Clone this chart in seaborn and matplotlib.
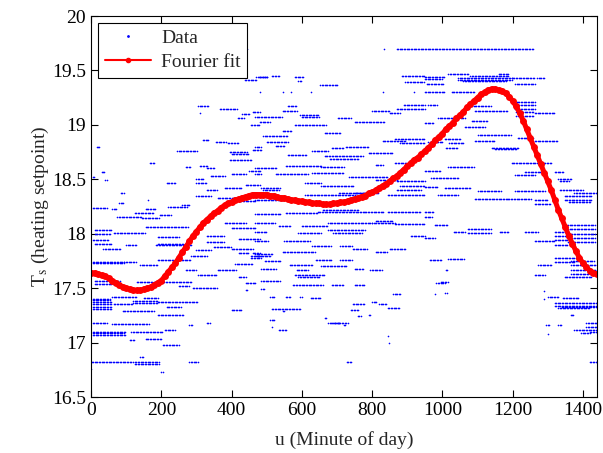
import numpy as np
import pandas as pd
import matplotlib
matplotlib.use("Agg")
import matplotlib.pyplot as plt
import seaborn as sns
from matplotlib.lines import Line2D

# horizontal runs of setpoint readings: (T_s, first minute, last minute)
runs_morning = [
    (16.73, 200, 205), (16.76, 0, 2), (16.80, 125, 195), (16.82, 2, 120), (16.82, 125, 195),
    (16.82, 280, 305), (16.87, 140, 150), (16.98, 205, 250), (17.02, 110, 125), (17.03, 155, 200),
    (17.07, 5, 100), (17.09, 5, 95), (17.10, 5, 100), (17.10, 115, 205), (17.12, 210, 240),
    (17.16, 280, 290), (17.17, 60, 165), (17.18, 5, 45), (17.25, 190, 265), (17.29, 90, 180),
    (17.31, 5, 60), (17.33, 5, 60), (17.33, 215, 255), (17.35, 5, 60), (17.35, 65, 120),
    (17.36, 120, 190), (17.37, 5, 60), (17.37, 190, 305), (17.38, 120, 190), (17.39, 5, 55),
    (17.40, 5, 55), (17.41, 150, 190), (17.42, 60, 130), (17.50, 290, 360), (17.52, 250, 280),
    (17.54, 10, 75), (17.56, 205, 285), (17.57, 10, 85), (17.56, 130, 200), (17.62, 305, 360),
    (17.67, 270, 300), (17.67, 360, 415), (17.71, 140, 190), (17.73, 5, 95), (17.74, 5, 95),
    (17.74, 95, 130), (17.76, 190, 285), (17.80, 285, 330), (17.78, 455, 485), (17.80, 455, 485),
    (17.82, 420, 450), (17.82, 460, 480), (17.86, 35, 85), (17.90, 100, 130), (17.90, 185, 285),
    (17.91, 190, 275), (17.91, 10, 60), (17.94, 5, 50), (17.97, 190, 250), (18.01, 65, 155),
    (18.03, 10, 60), (18.00, 10, 55), (18.06, 155, 275), (18.14, 145, 195), (18.15, 75, 145),
    (18.17, 195, 230), (18.19, 125, 180), (18.23, 60, 75), (18.23, 155, 185), (18.24, 5, 45),
    (18.25, 220, 275), (18.26, 260, 280), (18.28, 80, 95), (18.31, 163, 166), (18.37, 85, 95),
    (18.40, 330, 360), (18.47, 215, 240), (18.47, 300, 330), (18.49, 40, 45), (18.52, 5, 10),
    (18.53, 340, 380), (18.57, 30, 40), (18.61, 270, 285), (18.62, 310, 330), (18.65, 168, 182),
    (18.68, 395, 455), (18.75, 395, 445), (18.73, 400, 450), (18.77, 460, 485), (18.76, 245, 302),
    (18.80, 16, 25), (18.83, 390, 420), (18.84, 355, 385), (18.86, 318, 337), (19.00, 455, 480),
    (19.06, 418, 437), (19.10, 430, 450), (19.11, 310, 313), (19.12, 460, 480), (19.15, 367, 415),
    (19.17, 305, 333), (19.41, 438, 472), (19.44, 480, 500), (19.70, 443, 446),
    (18.35, 300, 340), (18.33, 360, 420), (18.30, 420, 470), (18.10, 380, 440), (18.05, 400, 470),
    (17.98, 330, 380), (17.95, 420, 480), (17.88, 350, 400), (17.85, 300, 340), (18.42, 380, 430),
    (18.45, 440, 480), (18.55, 400, 440), (18.58, 450, 485), (18.50, 300, 320), (18.60, 330, 350),
    (17.92, 330, 380), (17.86, 400, 460), (17.72, 410, 460), (17.60, 420, 440), (17.55, 440, 470),
    (17.48, 440, 445), (17.30, 400, 430), (17.18, 330, 340),
]

runs_midday = [
    (19.70, 835, 838), (19.70, 870, 1258), (19.44, 470, 505), (19.45, 515, 535), (19.44, 580, 605),
    (19.40, 590, 600), (19.37, 653, 703), (19.45, 885, 950), (19.39, 895, 950), (19.30, 480, 483),
    (19.30, 545, 548), (19.30, 570, 573), (19.30, 625, 628), (19.30, 830, 833), (19.30, 920, 923),
    (19.17, 560, 585), (19.13, 545, 585), (19.09, 595, 650), (19.07, 600, 650), (19.00, 580, 670),
    (19.03, 480, 510), (19.07, 467, 545), (19.06, 703, 740), (19.03, 750, 835), (19.13, 800, 850),
    (19.11, 850, 880), (19.15, 870, 950), (19.18, 890, 950), (18.94, 545, 570), (18.93, 665, 710),
    (18.90, 490, 560), (18.84, 500, 560), (18.80, 467, 485), (18.81, 525, 550), (18.76, 630, 675),
    (18.79, 685, 720), (18.80, 725, 790), (18.85, 830, 895), (18.87, 865, 950), (18.83, 880, 950),
    (18.71, 665, 775), (18.69, 680, 760), (18.72, 560, 615), (18.74, 790, 860), (18.60, 467, 530),
    (18.62, 555, 655), (18.61, 655, 720), (18.63, 810, 830), (18.65, 865, 915), (18.55, 467, 485),
    (18.55, 525, 620), (18.56, 630, 720), (18.52, 735, 845), (18.42, 485, 540), (18.40, 490, 535),
    (18.47, 610, 655), (18.44, 655, 750), (18.37, 705, 795), (18.49, 810, 870), (18.48, 870, 950),
    (18.44, 880, 950), (18.40, 870, 940), (18.36, 610, 750), (18.37, 750, 820), (18.36, 845, 950),
    (18.31, 467, 550), (18.18, 467, 540), (18.19, 555, 645), (18.20, 645, 780), (18.22, 660, 760),
    (18.20, 780, 835), (18.20, 845, 940), (18.10, 467, 525), (18.07, 535, 570), (18.07, 600, 675),
    (18.10, 675, 800), (18.10, 800, 865), (18.12, 810, 860), (18.09, 865, 950), (18.02, 467, 500),
    (18.01, 590, 655), (18.03, 675, 780), (18.01, 690, 770), (17.98, 910, 950), (17.93, 467, 505),
    (17.93, 550, 625), (17.89, 630, 685), (17.89, 710, 745), (17.86, 745, 785), (17.83, 810, 845),
    (17.86, 850, 895), (17.81, 467, 515), (17.80, 470, 510), (17.83, 545, 640), (17.76, 640, 685),
    (17.76, 710, 745), (17.75, 495, 540), (17.71, 565, 630), (17.70, 655, 730), (17.68, 485, 525),
    (17.67, 585, 620), (17.68, 750, 775), (17.67, 795, 830), (17.62, 580, 665), (17.60, 590, 650),
    (17.57, 485, 540), (17.53, 575, 660), (17.53, 685, 720), (17.53, 750, 780), (17.49, 485, 495),
    (17.42, 510, 525), (17.42, 555, 570), (17.42, 595, 600), (17.41, 625, 655), (17.45, 860, 880),
    (17.35, 745, 780), (17.31, 515, 595), (17.29, 545, 550), (17.32, 845, 880), (17.25, 790, 795),
    (17.21, 510, 525), (17.23, 665, 670), (17.18, 675, 710), (17.18, 690, 730), (17.12, 535, 555),
    (17.14, 515, 518), (17.06, 845, 848), (16.82, 728, 742), (17.00, 847, 850), (17.30, 740, 760),
    (17.24, 760, 770), (17.16, 720, 725), (17.37, 800, 815), (17.35, 820, 840), (17.67, 1010, 1015),
    (17.56, 995, 1015), (17.46, 1008, 1012),
]

runs_evening = [
    (19.44, 950, 1007), (19.42, 950, 1000), (19.38, 955, 1005), (19.47, 1017, 1075), (19.43, 1045, 1197),
    (19.41, 1045, 1197), (19.40, 1060, 1180), (19.45, 1080, 1190), (19.43, 1197, 1263), (19.43, 1270, 1290),
    (19.47, 1160, 1190), (19.30, 950, 1007), (19.30, 1026, 1092), (19.38, 1207, 1263), (19.21, 1207, 1263),
    (19.18, 1207, 1263), (19.15, 1207, 1263), (19.12, 1210, 1260), (19.08, 1210, 1260), (19.11, 1263, 1320),
    (19.18, 960, 985), (19.17, 1073, 1140), (19.13, 1092, 1187), (19.06, 988, 1064), (19.04, 1083, 1130),
    (18.98, 1064, 1121), (19.02, 950, 975), (18.91, 1102, 1197), (18.87, 1007, 1054), (18.88, 1215, 1260),
    (18.84, 960, 1000), (18.83, 1020, 1060), (18.79, 1140, 1216), (18.78, 1150, 1210), (18.85, 1263, 1330),
    (18.79, 1010, 1045), (18.85, 1092, 1150), (18.65, 1197, 1310), (18.61, 1017, 1092), (18.58, 950, 995),
    (18.54, 1207, 1263), (18.57, 1235, 1280), (18.57, 1320, 1345), (18.51, 969, 1045), (18.50, 1330, 1367),
    (18.48, 1335, 1360), (18.43, 950, 988), (18.42, 1007, 1082), (18.39, 1102, 1168), (18.39, 1207, 1292),
    (18.40, 1335, 1400), (18.37, 1376, 1440), (18.36, 988, 1045), (18.32, 1092, 1187), (18.32, 1187, 1254),
    (18.31, 1263, 1300), (18.35, 1348, 1424), (18.31, 1348, 1424), (18.29, 1360, 1420), (18.27, 1263, 1310),
    (18.20, 950, 975), (18.15, 950, 970), (18.08, 978, 1016), (18.04, 1073, 1140), (18.01, 1073, 1140),
    (18.02, 1032, 1064), (18.02, 1163, 1187), (18.02, 1235, 1273), (17.93, 1263, 1320), (18.02, 1320, 1358),
    (17.98, 1320, 1358), (17.94, 1320, 1358), (17.90, 1320, 1358), (18.08, 1358, 1434), (18.04, 1358, 1434),
    (18.00, 1358, 1434), (17.96, 1358, 1434), (17.92, 1358, 1434), (17.96, 950, 978), (17.76, 964, 997),
    (17.77, 1017, 1064), (17.71, 1273, 1310), (17.74, 1320, 1376), (17.78, 1320, 1385), (17.75, 1367, 1434),
    (17.71, 1367, 1440), (17.67, 1367, 1440), (17.63, 1367, 1440), (17.60, 1348, 1424), (17.62, 1263, 1292),
    (17.55, 983, 1007), (17.45, 980, 983), (17.42, 1301, 1330), (17.41, 1343, 1390), (17.36, 1320, 1440),
    (17.34, 1320, 1440), (17.33, 1340, 1440), (17.32, 1330, 1420), (17.25, 1365, 1375), (17.16, 1296, 1305),
    (17.16, 1330, 1340), (17.12, 1376, 1440), (17.09, 1395, 1420), (17.08, 1300, 1303), (16.82, 1420, 1440),
    (17.18, 1410, 1440), (17.14, 1410, 1440), (17.10, 1420, 1440), (17.47, 1290, 1293), (17.40, 1290, 1293),
]

# Fourier fit read every 10 minutes
fit_minute = list(range(0, 1441, 10))
fit_value = [
    17.64, 17.64, 17.63, 17.62, 17.61, 17.59, 17.57, 17.55, 17.53, 17.51,
    17.50, 17.49, 17.48, 17.48, 17.48, 17.49, 17.50, 17.51, 17.53, 17.55,
    17.57, 17.61, 17.65, 17.69, 17.73, 17.78, 17.83, 17.88, 17.93, 17.98,
    18.02, 18.06, 18.10, 18.13, 18.16, 18.19, 18.21, 18.24, 18.26, 18.28,
    18.29, 18.31, 18.32, 18.33, 18.34, 18.35, 18.36, 18.36, 18.36, 18.36,
    18.36, 18.35, 18.35, 18.34, 18.33, 18.33, 18.32, 18.31, 18.31, 18.30,
    18.30, 18.29, 18.29, 18.28, 18.28, 18.28, 18.27, 18.27, 18.27, 18.28,
    18.28, 18.29, 18.29, 18.30, 18.31, 18.32, 18.33, 18.34, 18.35, 18.37,
    18.38, 18.40, 18.42, 18.44, 18.46, 18.48, 18.51, 18.53, 18.56, 18.59,
    18.62, 18.65, 18.68, 18.70, 18.73, 18.76, 18.79, 18.82, 18.86, 18.89,
    18.92, 18.96, 18.99, 19.02, 19.06, 19.09, 19.12, 19.16, 19.19, 19.22,
    19.25, 19.28, 19.30, 19.32, 19.33, 19.33, 19.32, 19.31, 19.29, 19.26,
    19.22, 19.17, 19.11, 19.04, 18.96, 18.88, 18.80, 18.72, 18.64, 18.56,
    18.48, 18.40, 18.31, 18.22, 18.14, 18.06, 17.98, 17.91, 17.84, 17.78,
    17.73, 17.69, 17.66, 17.64, 17.63,
]

# expand runs into individual readings (one dot every few minutes, as logged)
rows = []
for T, u0, u1 in runs_morning + runs_midday + runs_evening:
    for u in range(u0, u1 + 1, 4):
        rows.append((u, T))
data = pd.DataFrame(rows, columns=["minute", "setpoint"])
fit = pd.DataFrame({"minute": fit_minute, "setpoint": fit_value})

sns.set_style("ticks")
plt.rcParams["font.family"] = ["Liberation Serif", "DejaVu Serif"]
plt.rcParams["mathtext.fontset"] = "stix"

fig = plt.figure(figsize=(6.03, 4.53), dpi=100)
ax = fig.add_axes([0.151, 0.1236, 0.839, 0.841])

sns.scatterplot(data=data, x="minute", y="setpoint", ax=ax, color="blue",
                s=1.4, marker="o", linewidth=0, legend=False)
sns.lineplot(data=fit, x="minute", y="setpoint", ax=ax, color="red", lw=3.6,
             marker="o", markersize=5, markeredgewidth=0, legend=False)

ax.set_xlim(0, 1440)
ax.set_ylim(16.5, 20)
ax.set_xticks(range(0, 1401, 200))
ax.set_yticks(np.arange(16.5, 20.01, 0.5))
ax.set_yticklabels(["16.5", "17", "17.5", "18", "18.5", "19", "19.5", "20"])
ax.tick_params(direction="in", top=True, right=True, length=5, width=0.8,
               labelsize=14, colors="black")
for sp in ax.spines.values():
    sp.set_visible(True)
    sp.set_color("black")
    sp.set_linewidth(0.8)

ax.set_xlabel("u (Minute of day)", fontsize=14, labelpad=9)
ax.set_ylabel(r"T$_{\mathrm{s}}$ (heating setpoint)", fontsize=14, labelpad=1)

handles = [
    Line2D([], [], color="blue", marker=".", markersize=2, linestyle="none"),
    Line2D([], [], color="red", marker=".", markersize=6, lw=1.5),
]
leg = ax.legend(handles, ["Data", "Fourier fit"], loc="upper left", fontsize=14,
                frameon=True, fancybox=False, framealpha=1, edgecolor="black",
                handlelength=2.4, borderaxespad=0.35, borderpad=0.35,
                labelspacing=0.3, handletextpad=0.5)
leg.get_frame().set_linewidth(0.8)

fig.savefig("out.png", dpi=100)
